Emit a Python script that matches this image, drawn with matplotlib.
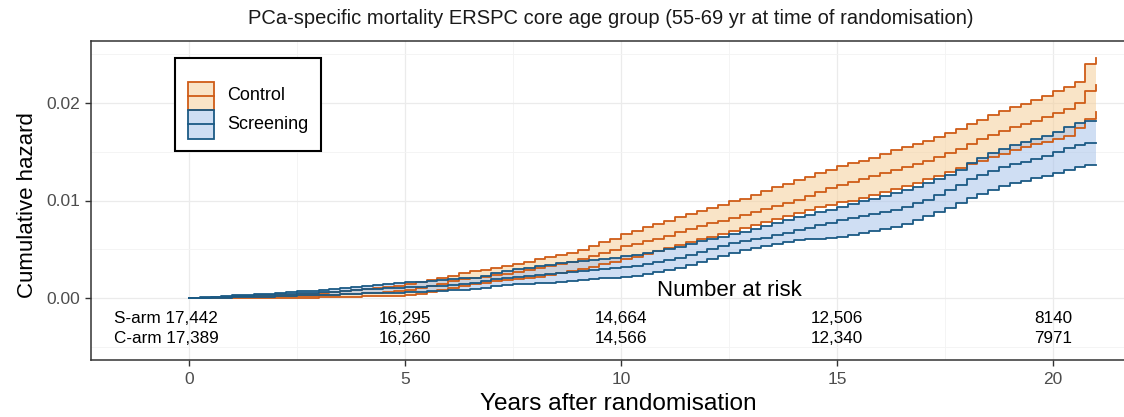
import numpy as np
import matplotlib.pyplot as plt
from matplotlib.patches import Rectangle

plt.rcParams['font.family'] = ['Liberation Sans', 'DejaVu Sans']

# time grid (years after randomisation); cumulative hazard
years = np.arange(0, 21.01, 0.25)

control_upper = [0, 0, 0, 0, .0001, .0001, .0002, .0002,
                 .0003, .0003, .0004, .0004, .0005, .0006, .0007, .0008,
                 .0009, .0010, .0011, .0012, .0014, .0016, .0018, .0020,
                 .0023, .0026, .0028, .0029, .0031, .0033, .0035, .0037,
                 .0040, .0042, .0044, .0046, .0049, .0053, .0057, .0061,
                 .0066, .0069, .0073, .0076, .0079, .0083, .0086, .0089,
                 .0092, .0095, .0099, .0102, .0106, .0110, .0114, .0117,
                 .0121, .0124, .0128, .0131, .0135, .0138, .0141, .0144,
                 .0148, .0152, .0155, .0158, .0161, .0165, .0169, .0173,
                 .0178, .0183, .0188, .0192, .0196, .0199, .0203, .0207,
                 .0212, .0216, .0222, .0240, .0246]
control_mid = [0, 0, 0, 0, .0001, .0001, .0001, .0001,
               .0002, .0002, .0002, .0002, .0003, .0003, .0004, .0004,
               .0005, .0005, .0006, .0007, .0008, .0010, .0012, .0014,
               .0017, .0019, .0021, .0022, .0024, .0025, .0027, .0029,
               .0031, .0033, .0035, .0037, .0040, .0043, .0046, .0049,
               .0053, .0055, .0058, .0061, .0064, .0068, .0071, .0074,
               .0077, .0079, .0082, .0085, .0088, .0091, .0094, .0097,
               .0101, .0105, .0109, .0113, .0116, .0119, .0122, .0125,
               .0128, .0131, .0134, .0137, .0141, .0145, .0149, .0153,
               .0158, .0163, .0167, .0171, .0175, .0178, .0182, .0186,
               .0190, .0194, .0200, .0212, .0218]
control_lower = [0, 0, 0, 0, 0, 0, 0, 0,
                 0, 0, 0, 0, .0001, .0001, .0001, .0001,
                 .0002, .0002, .0002, .0002, .0003, .0004, .0006, .0008,
                 .0010, .0012, .0014, .0015, .0017, .0018, .0019, .0021,
                 .0022, .0024, .0026, .0028, .0030, .0032, .0035, .0037,
                 .0040, .0042, .0045, .0048, .0051, .0054, .0057, .0060,
                 .0063, .0066, .0069, .0072, .0075, .0078, .0081, .0084,
                 .0087, .0090, .0093, .0095, .0098, .0100, .0103, .0106,
                 .0109, .0112, .0115, .0118, .0122, .0125, .0129, .0133,
                 .0137, .0141, .0145, .0148, .0152, .0155, .0158, .0160,
                 .0163, .0166, .0174, .0184, .0191]

screen_upper = [0, .0001, .0001, .0002, .0003, .0003, .0004, .0004,
                .0005, .0006, .0007, .0007, .0008, .0009, .0010, .0011,
                .0012, .0013, .0014, .0015, .0016, .0016, .0017, .0018,
                .0019, .0020, .0021, .0023, .0026, .0028, .0030, .0031,
                .0033, .0034, .0036, .0037, .0038, .0039, .0040, .0041,
                .0043, .0044, .0046, .0048, .0050, .0052, .0055, .0058,
                .0061, .0063, .0066, .0068, .0071, .0074, .0077, .0080,
                .0083, .0085, .0088, .0090, .0093, .0096, .0099, .0102,
                .0105, .0108, .0111, .0114, .0118, .0122, .0126, .0131,
                .0138, .0144, .0149, .0153, .0157, .0160, .0163, .0166,
                .0170, .0175, .0180, .0182, .0182]
screen_mid = [0, 0, .0001, .0001, .0002, .0002, .0003, .0003,
              .0004, .0004, .0005, .0005, .0006, .0006, .0007, .0008,
              .0009, .0009, .0010, .0010, .0011, .0011, .0012, .0012,
              .0013, .0014, .0015, .0017, .0019, .0020, .0022, .0023,
              .0024, .0025, .0026, .0027, .0028, .0029, .0030, .0031,
              .0032, .0033, .0035, .0037, .0039, .0041, .0044, .0047,
              .0050, .0053, .0056, .0058, .0060, .0062, .0065, .0067,
              .0070, .0072, .0075, .0077, .0080, .0082, .0084, .0086,
              .0088, .0090, .0093, .0097, .0101, .0106, .0111, .0116,
              .0122, .0126, .0130, .0134, .0137, .0140, .0143, .0146,
              .0150, .0154, .0157, .0159, .0159]
screen_lower = [0, 0, 0, 0, .0001, .0001, .0001, .0001,
                .0002, .0002, .0003, .0003, .0003, .0003, .0004, .0004,
                .0005, .0005, .0005, .0005, .0006, .0006, .0007, .0007,
                .0008, .0008, .0009, .0010, .0012, .0013, .0014, .0014,
                .0015, .0015, .0016, .0017, .0018, .0019, .0020, .0021,
                .0022, .0023, .0025, .0027, .0029, .0031, .0034, .0037,
                .0040, .0043, .0046, .0049, .0051, .0053, .0055, .0057,
                .0059, .0060, .0061, .0062, .0063, .0065, .0067, .0069,
                .0071, .0073, .0076, .0080, .0084, .0088, .0092, .0097,
                .0103, .0107, .0111, .0115, .0118, .0120, .0123, .0125,
                .0128, .0131, .0134, .0136, .0136]

# number at risk
risk_years = [0, 5, 10, 15, 20]
s_arm = ['17,442', '16,295', '14,664', '12,506', '8140']
c_arm = ['17,389', '16,260', '14,566', '12,340', '7971']

orange = '#cf5c17'
orange_fill = '#f5cf9a'
blue = '#1b5a85'
blue_fill = '#a9c3ea'

W, H = 1124, 417
fig = plt.figure(figsize=(W / 100, H / 100), dpi=100)
ax = fig.add_axes([91 / W, 1 - 360 / H, (1145 - 91) / W, (360 - 41) / H])
ax.set_xlim(-2.27, 22.13)
ax.set_ylim(-0.00636, 0.02636)

# ribbons + lines
ax.fill_between(years, control_lower, control_upper, step='post',
                color=orange_fill, alpha=0.55, lw=0)
ax.fill_between(years, screen_lower, screen_upper, step='post',
                color=blue_fill, alpha=0.55, lw=0)
for y in (control_upper, control_mid, control_lower):
    ax.plot(years, y, drawstyle='steps-post', color=orange, lw=1.3)
for y in (screen_upper, screen_mid, screen_lower):
    ax.plot(years, y, drawstyle='steps-post', color=blue, lw=1.3)

# risk table
ax.text(12.5, 0.0008, 'Number at risk', fontsize=16, ha='center', va='center')
row_s, row_c = -0.00215, -0.0042
for i, yr in enumerate(risk_years):
    if i == 0:
        ax.text(-1.74, row_s, 'S-arm ' + s_arm[i], fontsize=12.3, ha='left', va='center')
        ax.text(-1.74, row_c, 'C-arm ' + c_arm[i], fontsize=12.3, ha='left', va='center')
    else:
        ax.text(yr, row_s, s_arm[i], fontsize=12.3, ha='center', va='center')
        ax.text(yr, row_c, c_arm[i], fontsize=12.3, ha='center', va='center')

# axes styling (theme_bw look)
ax.set_xticks(risk_years)
ax.set_xticks([2.5, 7.5, 12.5, 17.5], minor=True)
ax.set_yticks([0, 0.01, 0.02])
ax.set_yticklabels(['0.00', '0.01', '0.02'])
ax.set_yticks([-0.005, 0.005, 0.015, 0.025], minor=True)
ax.grid(which='major', color='#ebebeb', lw=0.9)
ax.grid(which='minor', color='#f3f3f3', lw=0.6)
ax.set_axisbelow(True)
ax.tick_params(which='minor', length=0)
ax.tick_params(which='major', length=4, width=1, color='#333333',
               labelcolor='#4d4d4d', labelsize=12.5)
ax.tick_params(axis='x', pad=5)
ax.tick_params(axis='y', pad=4)
for s in ax.spines.values():
    s.set_color('#333333')
    s.set_linewidth(1.1)

fig.text(611 / W, 1 - 18 / H, 'PCa-specific mortality ERSPC core age group (55-69 yr at time of randomisation)',
         fontsize=14.5, ha='center', va='center', color='#1a1a1a')
fig.text(618 / W, 1 - 404 / H, 'Years after randomisation', fontsize=17.6, ha='center', va='center')
fig.text(28 / W, 1 - 205 / H, 'Cumulative hazard', fontsize=16, ha='center', va='center',
         rotation=90)


# legend box drawn by hand, positions in image pixels
def fpx(x, y):
    return x / W, 1 - y / H


lx, ly = fpx(175, 151)
fig.patches.append(Rectangle((lx, ly), 146 / W, 93 / H, transform=fig.transFigure,
                             fc='white', ec='black', lw=1.5, zorder=5))
for k, (lab, lc, fc) in enumerate([('Control', orange, orange_fill), ('Screening', blue, blue_fill)]):
    top = 82 + 28.5 * k
    px0, py0 = fpx(188, top + 28)
    fig.patches.append(Rectangle((px0, py0), 26 / W, 28 / H, transform=fig.transFigure,
                                 fc=fc, alpha=0.55, ec='none', zorder=6))
    fig.patches.append(Rectangle((px0, py0), 26 / W, 28 / H, transform=fig.transFigure,
                                 fc='none', ec=lc, lw=1.3, zorder=7))
    mx, my = fpx(188, top + 14)
    fig.lines.append(plt.Line2D([mx, mx + 26 / W], [my, my], transform=fig.transFigure,
                                color=lc, lw=1.3, zorder=7))
    tx, ty = fpx(227, top + 14)
    fig.text(tx, ty, lab, fontsize=13, ha='left', va='center', zorder=8)

fig.savefig('out.png', dpi=100)
